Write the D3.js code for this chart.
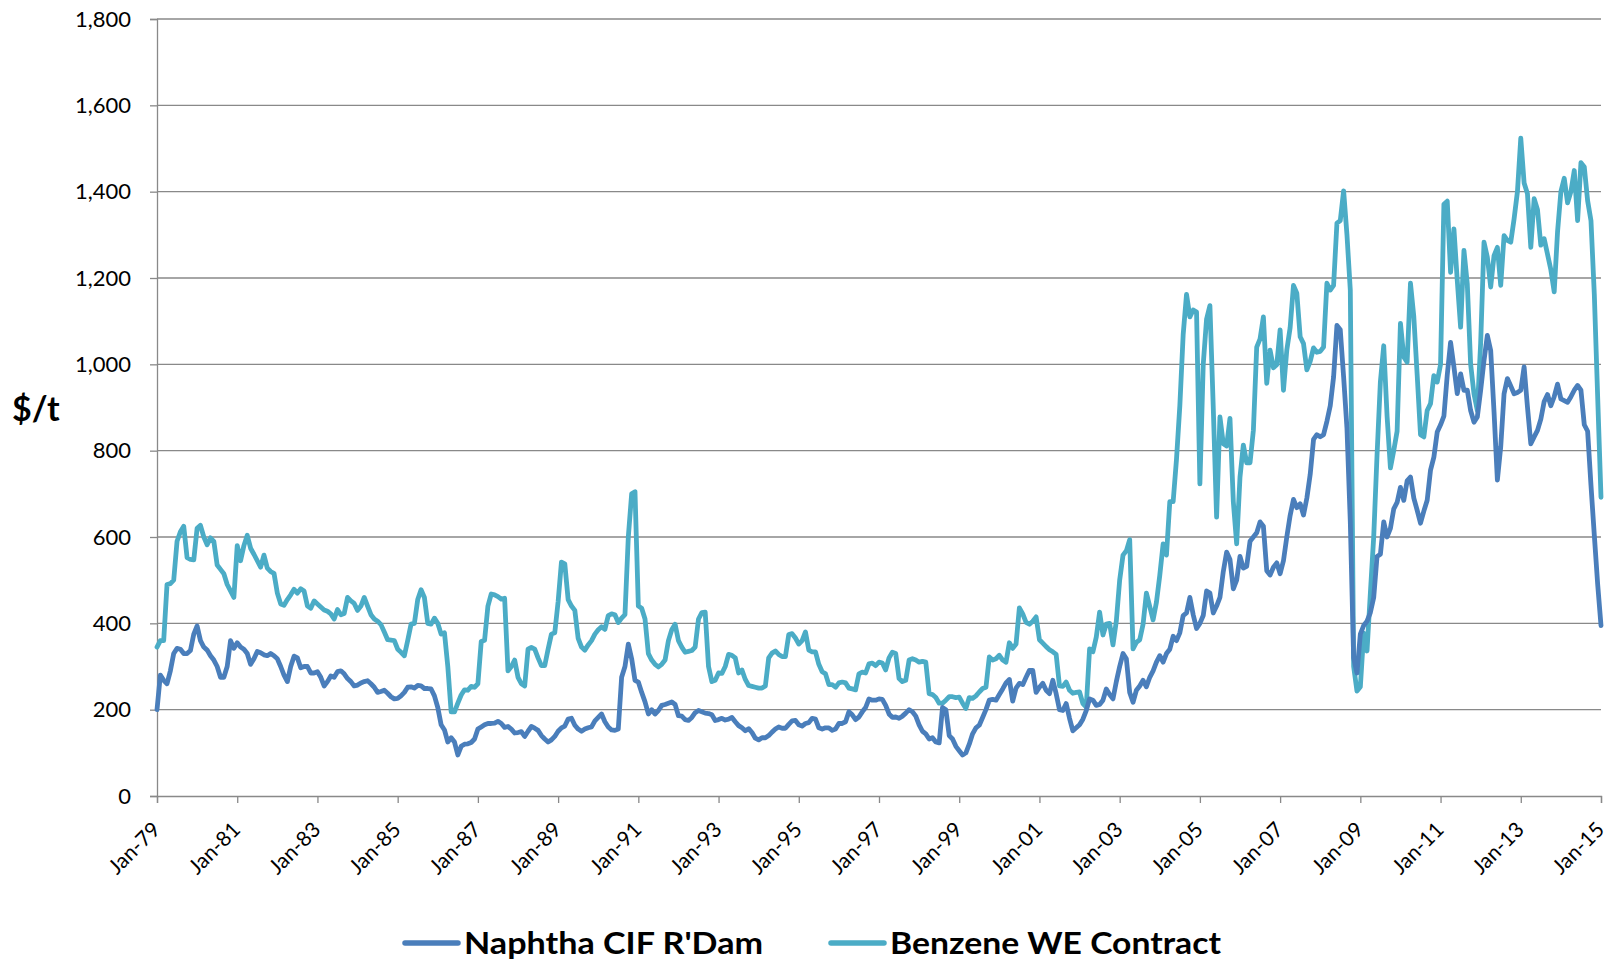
<!DOCTYPE html>
<html>
<head>
<meta charset="utf-8">
<script src="https://cdn.jsdelivr.net/npm/d3@7"></script>
<style>
  body { margin: 0; background: #fff; }
  svg { display: block; }
  text { font-family: Lato, "Open Sans", sans-serif; fill: #000; }
</style>
</head>
<body>
<svg id="chart" width="1623" height="963"></svg>
<script>
// Monthly prices, $/t, January 1979 through January 2015 (one value per month)
const naphtha = [
  200, 280, 268, 260, 290, 330, 342, 340, 330, 330, 337, 375,   // 1979
  394, 360, 345, 338, 325, 315, 300, 275, 275, 300, 360, 342,   // 1980
  355, 345, 340, 330, 305, 318, 335, 332, 327, 325, 330, 325,   // 1981
  318, 300, 280, 265, 300, 324, 320, 297, 300, 300, 285, 285,   // 1982
  288, 275, 255, 265, 278, 275, 288, 290, 283, 272, 265, 255,   // 1983
  257, 262, 265, 267, 260, 252, 240, 242, 245, 238, 230, 225,   // 1984
  226, 232, 240, 252, 253, 250, 256, 255, 249, 249, 248, 232,   // 1985
  205, 165, 153, 125, 135, 125,  95, 115, 120, 121, 124, 132,   // 1986
  155, 160, 165, 168, 168, 169, 173, 168, 159, 161, 155, 146,   // 1987
  147, 149, 138, 150, 161, 157, 152, 140, 132, 125, 130, 138,   // 1988
  150, 158, 162, 178, 180, 164, 155, 150, 155, 158, 160, 174,   // 1989
  182, 190, 172, 160, 153, 152, 155, 275, 300, 352, 318, 268,   // 1990
  264, 240, 218, 190, 200, 190, 198, 210, 212, 215, 218, 212,   // 1991
  186, 185, 177, 175, 182, 193, 198, 195, 192, 191, 188, 175,   // 1992
  177, 180, 176, 178, 182, 172, 163, 158, 151, 156, 147, 134,   // 1993
  130, 135, 135, 140, 148, 155, 160, 157, 157, 166, 174, 175,   // 1994
  165, 162, 168, 170, 180, 178, 158, 155, 158, 158, 152, 155,   // 1995
  168, 168, 172, 195, 188, 177, 183, 195, 205, 225, 222, 222,   // 1996
  225, 224, 210, 190, 182, 183, 180, 185, 192, 200, 195, 185,   // 1997
  165, 150, 144, 132, 135, 125, 123, 205, 200, 140, 132, 115,   // 1998
  105,  95, 100, 120, 144, 158, 164, 182, 200, 222, 224, 222,   // 1999
  235, 248, 262, 270, 220, 250, 261, 258, 275, 291, 291, 240,   // 2000
  252, 261, 245, 237, 268, 237, 200, 198, 214, 180, 151, 158,   // 2001
  165, 178, 198, 225, 222, 210, 212, 222, 248, 235, 225, 265,   // 2002
  300, 330, 318, 240, 217, 245, 255, 268, 253, 275, 290, 310,   // 2003
  325, 310, 330, 340, 370, 360, 378, 418, 424, 460, 420, 388,   // 2004
  400, 418, 475, 470, 424, 440, 460, 520, 565, 548, 480, 500,   // 2005
  555, 528, 532, 590, 600, 610, 635, 625, 522, 512, 530, 540,   // 2006
  515, 545, 600, 650, 687, 668, 677, 651, 690, 745, 826, 837,   // 2007
  832, 837, 868, 904, 971, 1090, 1080, 971, 852, 635, 320, 285, // 2008
  375, 395, 405, 425, 460, 555, 560, 635, 600, 620, 665, 680,   // 2009
  715, 685, 730, 739, 690, 662, 632, 660, 685, 755, 785, 843,   // 2010
  860, 880, 975, 1051, 994, 932, 978, 940, 940, 893, 866, 878,  // 2011
  940, 1009, 1067, 1032, 890, 732, 809, 932, 967, 950, 932, 935, // 2012
  940, 994, 901, 816, 832, 847, 873, 914, 930, 904, 925, 954,   // 2013
  920, 916, 912, 925, 940, 951, 940, 860, 845, 720, 604, 491,   // 2014
  395                                                           // Jan 2015
];

const benzene = [
  345, 360, 360, 490, 492, 500, 590, 612, 625, 552, 548, 547,   // 1979
  620, 627, 600, 582, 598, 590, 535, 525, 515, 490, 475, 460,   // 1980
  580, 545, 580, 604, 574, 560, 545, 530, 558, 528, 520, 516,   // 1981
  470, 445, 442, 455, 466, 479, 470, 480, 475, 440, 435, 452,   // 1982
  445, 438, 431, 428, 422, 410, 432, 420, 423, 460, 452, 446,   // 1983
  430, 440, 460, 440, 420, 410, 405, 397, 380, 362, 361, 360,   // 1984
  340, 333, 325, 360, 398, 400, 455, 478, 460, 400, 398, 412,   // 1985
  400, 375, 378, 300, 195, 195, 215, 234, 246, 245, 254, 252,   // 1986
  260, 358, 361, 440, 468, 466, 462, 456, 458, 290, 300, 315,   // 1987
  275, 260, 255, 340, 344, 340, 320, 302, 302, 340, 375, 378,   // 1988
  450, 542, 538, 455, 440, 430, 365, 345, 338, 350, 360, 375,   // 1989
  385, 392, 386, 418, 422, 420, 402, 412, 420, 600, 700, 705,   // 1990
  440, 435, 410, 330, 315, 305, 299, 305, 315, 360, 385, 398,   // 1991
  360, 345, 333, 335, 337, 345, 410, 425, 426, 300, 265, 268,   // 1992
  285, 284, 300, 328, 326, 320, 285, 292, 270, 256, 254, 252,   // 1993
  250, 250, 255, 320, 331, 336, 328, 323, 323, 374, 376, 366,   // 1994
  352, 360, 380, 338, 334, 334, 305, 288, 283, 258, 258, 252,   // 1995
  262, 264, 262, 250, 248, 246, 283, 287, 285, 306, 308, 302,   // 1996
  310, 308, 292, 320, 333, 330, 272, 265, 268, 315, 318, 315,   // 1997
  310, 312, 310, 237, 235, 228, 215, 215, 222, 230, 230, 228,   // 1998
  229, 215, 203, 228, 226, 232, 241, 249, 252, 322, 315, 318,   // 1999
  326, 315, 310, 355, 342, 352, 436, 422, 402, 398, 405, 415,   // 2000
  362, 354, 346, 339, 334, 328, 255, 254, 264, 245, 238, 240,   // 2001
  241, 214, 206, 341, 334, 368, 426, 373, 398, 400, 350, 405,   // 2002
  500, 558, 568, 594, 341, 356, 362, 398, 470, 439, 408, 449,   // 2003
  511, 584, 558, 682, 682, 780, 904, 1069, 1162, 1110, 1126, 1121, // 2004
  723, 1000, 1105, 1136, 900, 646, 878, 816, 811, 875, 682, 584,  // 2005
  739, 813, 772, 772, 847, 1040, 1059, 1110, 956, 1033, 992, 999, // 2006
  1080, 940, 1033, 1085, 1183, 1165, 1064, 1048, 987, 1007, 1038, 1028, // 2007
  1030, 1040, 1188, 1172, 1183, 1327, 1333, 1402, 1300, 1172, 300, 243, // 2008
  253, 377, 336, 470, 600, 790, 960, 1043, 880, 760, 800, 845,    // 2009
  1095, 1017, 1005, 1188, 1110, 976, 837, 832, 893, 909, 974, 959, // 2010
  1000, 1371, 1378, 1213, 1314, 1194, 1086, 1264, 1186, 1000, 932, 893, // 2011
  1050, 1283, 1248, 1179, 1252, 1271, 1183, 1298, 1287, 1283, 1337, 1400, // 2012
  1524, 1420, 1395, 1271, 1384, 1358, 1276, 1291, 1255, 1219, 1168, 1307, // 2013
  1400, 1431, 1374, 1400, 1449, 1333, 1467, 1457, 1379, 1333, 1162, 925,  // 2014
  692                                                                      // Jan 2015
];

const seriesNames = ["Naphtha CIF R'Dam", "Benzene WE Contract"];
const seriesColors = ["#4a7ebb", "#4bacc6"];

// Category axis: one label every 24 months
const xTickMonths = [0, 24, 48, 72, 96, 120, 144, 168, 192, 216, 240, 264, 288, 312, 336, 360, 384, 408, 432];
const xTickLabels = ["Jan-79", "Jan-81", "Jan-83", "Jan-85", "Jan-87", "Jan-89", "Jan-91", "Jan-93", "Jan-95",
                     "Jan-97", "Jan-99", "Jan-01", "Jan-03", "Jan-05", "Jan-07", "Jan-09", "Jan-11", "Jan-13", "Jan-15"];
const yTicks = [0, 200, 400, 600, 800, 1000, 1200, 1400, 1600, 1800];
const yLabel = "$/t";

const svg = d3.select("#chart");
const plot = { left: 157, right: 1601, top: 19, bottom: 796 };

const x = d3.scaleLinear().domain([0, naphtha.length - 1]).range([plot.left, plot.right]);
const y = d3.scaleLinear().domain([0, 1800]).range([plot.bottom, plot.top]);

const gridColor = "#898989";

// Horizontal gridlines
svg.append("g")
  .selectAll("line")
  .data(yTicks.filter(d => d > 0))
  .join("line")
  .attr("x1", plot.left).attr("x2", plot.right)
  .attr("y1", d => y(d)).attr("y2", d => y(d))
  .attr("stroke", gridColor).attr("stroke-width", 1.3);

// Value axis
const yAxis = svg.append("g")
  .attr("transform", `translate(${plot.left},0)`)
  .call(d3.axisLeft(y).tickValues(yTicks).tickSize(7).tickPadding(19).tickFormat(d3.format(",")));
yAxis.select(".domain").attr("stroke", gridColor).attr("stroke-width", 1.3);
yAxis.selectAll(".tick line").attr("stroke", gridColor).attr("stroke-width", 1.3);
yAxis.selectAll(".tick text").attr("font-size", 22).attr("fill", "#000")
  .style("font-family", "Lato, 'Open Sans', sans-serif");

// Category axis
const xAxis = svg.append("g")
  .attr("transform", `translate(0,${plot.bottom})`)
  .call(d3.axisBottom(x).tickValues(xTickMonths).tickSize(7)
    .tickFormat((d, i) => xTickLabels[i]));
xAxis.select(".domain").attr("stroke", gridColor).attr("stroke-width", 1.3);
xAxis.selectAll(".tick line").attr("stroke", gridColor).attr("stroke-width", 1.3);
xAxis.selectAll(".tick text")
  .attr("x", 0).attr("y", 0).attr("dy", 0)
  .attr("transform", "translate(4,35) rotate(-45)")
  .attr("text-anchor", "end")
  .attr("font-size", 21).attr("fill", "#000")
  .style("font-family", "Lato, 'Open Sans', sans-serif");

// Axis title
svg.append("text")
  .attr("x", 12).attr("y", 421)
  .attr("font-size", 34).attr("font-weight", "bold")
  .text(yLabel);

// Series lines (benzene underneath, naphtha on top)
const line = d3.line().x((d, i) => x(i)).y(d => y(d)).curve(d3.curveLinear);
[[benzene, seriesColors[1]], [naphtha, seriesColors[0]]].forEach(([values, color]) => {
  svg.append("path")
    .datum(values)
    .attr("fill", "none")
    .attr("stroke", color)
    .attr("stroke-width", 4.8)
    .attr("stroke-linejoin", "round")
    .attr("stroke-linecap", "round")
    .attr("d", line);
});

// Legend
const legendItems = [
  { name: seriesNames[0], color: seriesColors[0], x0: 405, textWidth: 299 },
  { name: seriesNames[1], color: seriesColors[1], x0: 831, textWidth: 331 }
];
const legend = svg.append("g").attr("transform", "translate(0,943)");
legendItems.forEach(item => {
  legend.append("line")
    .attr("x1", item.x0).attr("x2", item.x0 + 53)
    .attr("y1", 0).attr("y2", 0)
    .attr("stroke", item.color).attr("stroke-width", 5.5)
    .attr("stroke-linecap", "round");
  legend.append("text")
    .attr("x", item.x0 + 59).attr("y", 11)
    .attr("font-size", 31).attr("font-weight", "bold")
    .attr("textLength", item.textWidth)
    .attr("lengthAdjust", "spacingAndGlyphs")
    .text(item.name);
});
</script>
</body>
</html>
